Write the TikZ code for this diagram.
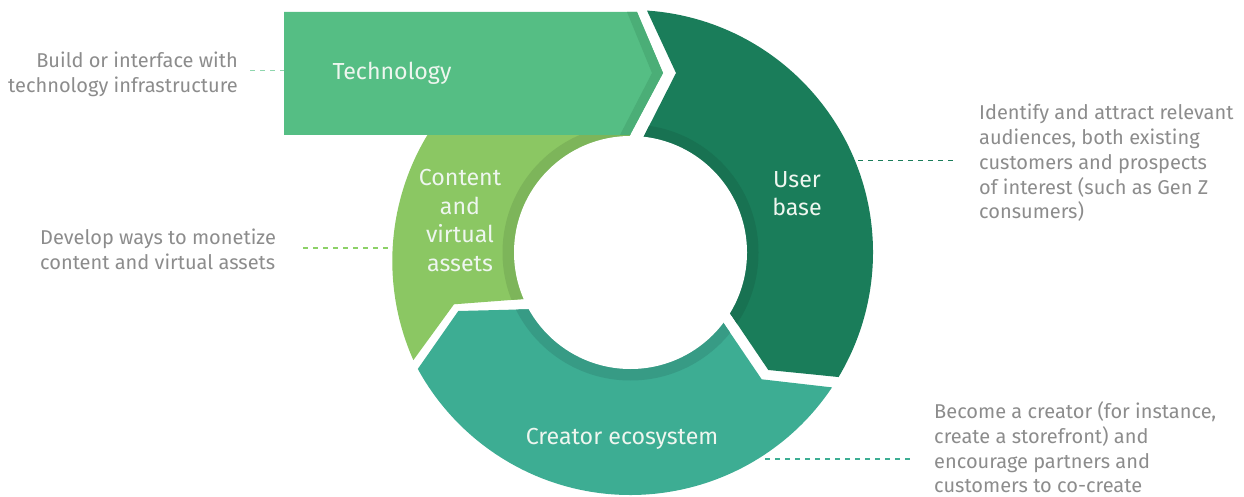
\documentclass[tikz,border=0pt]{standalone}
\usepackage{fontspec}
\setmainfont{Fira Sans}
\usetikzlibrary{calc}
\definecolor{techc}{HTML}{55BE84}
\definecolor{techs}{HTML}{4BAE77}
\definecolor{userc}{HTML}{1A7D5A}
\definecolor{userb}{HTML}{187252}
\definecolor{creac}{HTML}{3DAD93}
\definecolor{creab}{HTML}{379B85}
\definecolor{contc}{HTML}{8BC763}
\definecolor{contb}{HTML}{7DB55A}
\definecolor{desc}{HTML}{8C8C8C}
\definecolor{lab}{HTML}{EEF6EF}
\definecolor{techline}{HTML}{8FD6AE}
\definecolor{contline}{HTML}{8CD166}
\begin{document}
\begin{tikzpicture}[x=1pt,y=1pt,
  desctext/.style={text=desc, font=\fontsize{20}{24.7}\selectfont, inner sep=0pt},
  labtext/.style={text=lab, font=\fontsize{23.2}{28.5}\selectfont, inner sep=0pt, align=center},
  leader/.style={line width=1.2pt, dash pattern=on 5pt off 5pt}]
\useasboundingbox (0,0) rectangle (1244,-497);
\coordinate (C) at (630.5,-252.5);
\coordinate (CC) at (636,-261);
% User base
\begin{scope}
\clip (634.4,-155) -- (644,-136) -- (676,-73) -- ($(C)+(86.1:242.5)$) arc[start angle=86.1,end angle=-30.9,radius=242.5] -- (768.3,-370) -- (730,-313.3) -- (710.9,-285) -- (C) -- cycle;
\fill[userc] (C) circle[radius=260];
\fill[userb] (C) circle[radius=128];
\end{scope}
% Creator ecosystem
\begin{scope}
\clip (704,-294.4) -- (723.3,-322.7) -- (761.7,-379.3) -- ($(C)+(-33.8:242.5)$) arc[start angle=-33.8,end angle=-151.3,radius=242.5] -- (458.3,-311) -- (526.7,-309.3) -- (560,-308.5) -- (C) -- cycle;
\fill[creac] (C) circle[radius=260];
\fill[creab] (C) circle[radius=128];
\end{scope}
% Content and virtual assets
\begin{scope}
\clip (560,-296) -- (520,-299.3) -- (454,-304.3) -- ($(CC)+(204:243.7)$) arc[start angle=204,end angle=95,radius=243.7] -- (650,-73) -- (630,-135) -- (619,-156) -- (C) -- cycle;
\fill[contc] (C) circle[radius=260];
\fill[contb] (C) circle[radius=128];
\end{scope}
\fill[white] (C) circle[radius=116.5];
% Technology arrow
\fill[techc] (284,-12) -- (637,-12) -- (663,-73) -- (630,-135) -- (284,-135) -- cycle;
\fill[techs] (627,-12) -- (637,-12) -- (663,-73) -- (630,-135) -- (620,-135) -- (652,-73) -- cycle;
% labels in the ring
\node[labtext] (techlab) at (392,-73) {Technology};
\node[labtext] (contlab) at (460,-220.5) {Content\\and\\virtual\\assets};
\node[labtext] (userlab) at (797,-193.5) {User\\base};
\node[labtext] (crealab) at (622,-439) {Creator ecosystem};
% descriptions
\node[desctext, anchor=east, align=right] (techd) at (238,-74.5) {Build or interface with\\technology infrastructure};
\node[desctext, anchor=west, align=left] (contd) at (40,-249.5) {Develop ways to monetize\\content and virtual assets};
\node[desctext, anchor=west, align=left] (userd) at (979,-163) {Identify and attract relevant\\audiences, both existing\\customers and prospects\\of interest (such as Gen Z\\consumers)};
\node[desctext, anchor=west, align=left] (cread) at (934,-447.5) {Become a creator (for instance,\\create a storefront) and\\encourage partners and\\customers to co-create};
% leader lines
\coordinate (t1) at (250,-70.7); \coordinate (t2) at (284,-70.7);
\coordinate (c1) at (303,-248); \coordinate (c2) at (393,-248);
\coordinate (u1) at (858,-160.7); \coordinate (u2) at (953,-160.7);
\coordinate (r1) at (765,-459); \coordinate (r2) at (910,-459);
\draw[leader, draw=techline] (t1) -- (t2);
\draw[leader, draw=contline] (c1) -- (c2);
\draw[leader, draw=userc] (u1) -- (u2);
\draw[leader, draw=creac] (r1) -- (r2);
\end{tikzpicture}
\end{document}
